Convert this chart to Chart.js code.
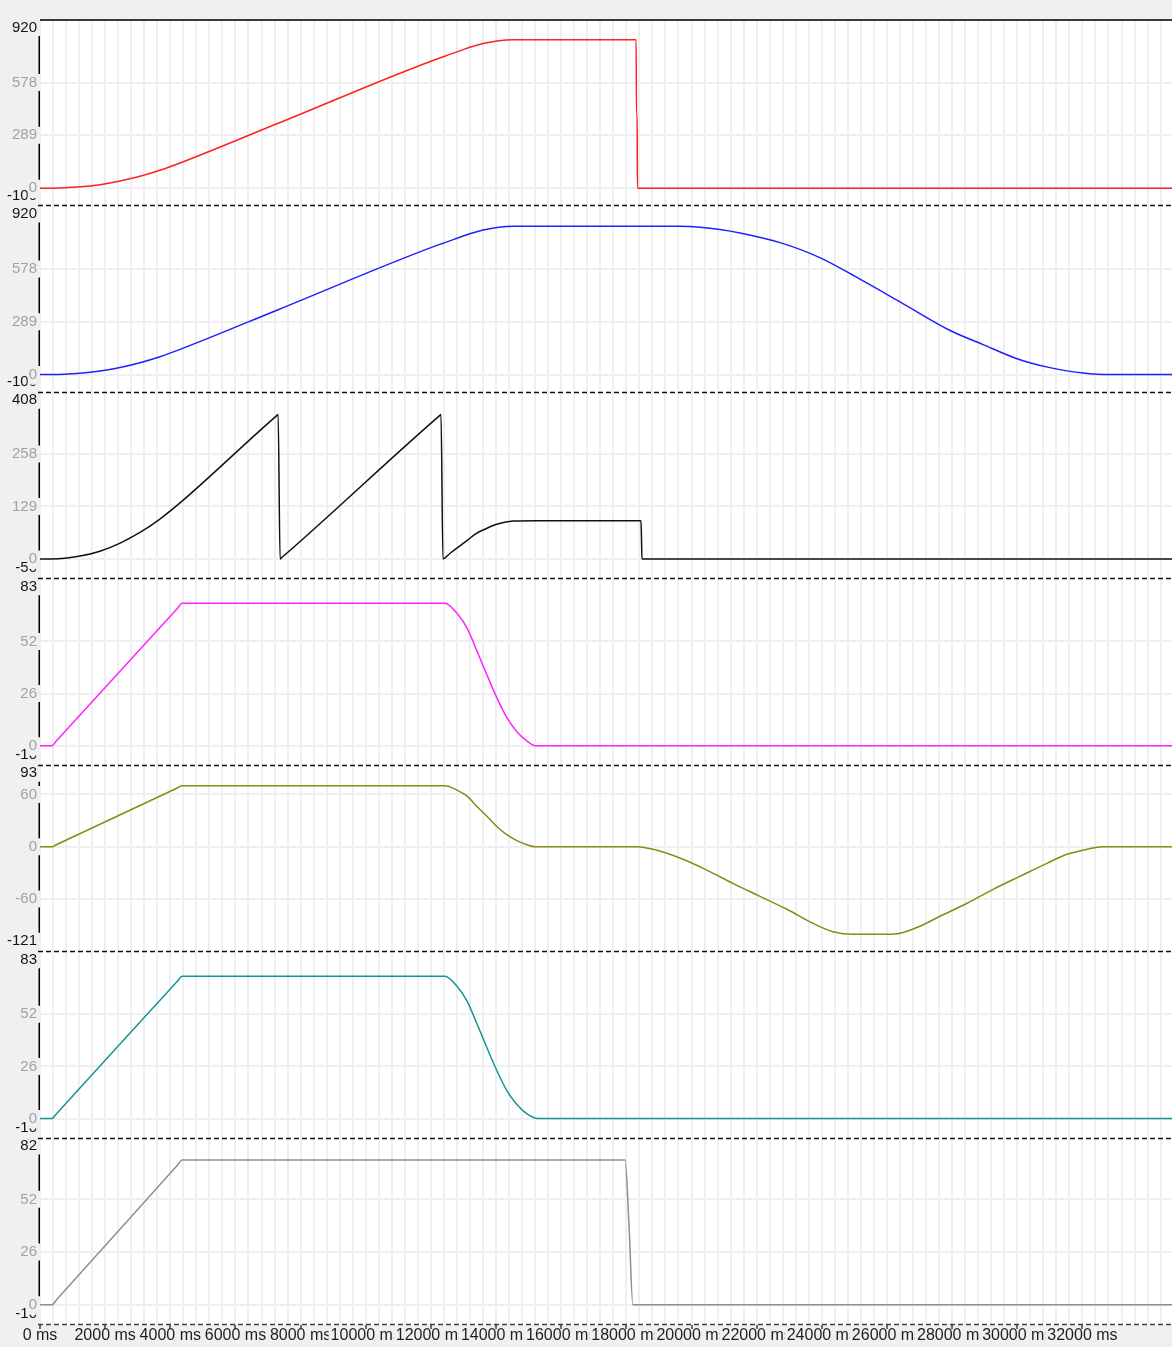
<!DOCTYPE html>
<html>
<head>
<meta charset="utf-8">
<script src="https://cdn.jsdelivr.net/npm/chart.js@4/dist/chart.umd.min.js"></script>
<style>
  html, body { margin: 0; padding: 0; background: #f0f0f0; overflow: hidden; }
  canvas { display: block; }
</style>
</head>
<body>
<canvas id="trace" width="1172" height="1347" style="width:1172px;height:1347px"></canvas>
<script>
// ---- time axis ----
const timeEnd = 34750;          // ms shown at the right edge
const gridStep = 400;           // ms between vertical grid lines
const timeLabels = ['0 ms', '2000 ms', '4000 ms', '6000 ms', '8000 ms', '10000 ms', '12000 ms',
  '14000 ms', '16000 ms', '18000 ms', '20000 ms', '22000 ms', '24000 ms', '26000 ms',
  '28000 ms', '30000 ms', '32000 ms'];

// ---- recorded channels (time in ms, value) ----
const ch1Time  = [0, 370, 1230, 1840, 2460, 3070, 3680, 4360, 7310, 12310, 12430, 12990, 13600, 14030, 14520, 15260, 18300, 18310, 18330, 18340, 34750];
const ch1Value = [0, 0, 7, 19, 39, 65, 98, 142, 355, 715, 722, 758, 791, 805, 812, 812, 812, 408, 408, 0, 0];

const ch2Time  = [0, 370, 1230, 1840, 2460, 3070, 3680, 4360, 7310, 12310, 12430, 12990, 13600, 14030, 14520, 15260, 18420, 19640, 20260, 20870, 21490, 22720, 23940, 25170, 26400, 27940, 28950, 29990, 31000, 32020, 32450, 32900, 34750];
const ch2Value = [0, 0, 7, 19, 39, 65, 98, 142, 355, 715, 722, 758, 791, 805, 812, 812, 812, 811, 806, 794, 775, 722, 640, 522, 398, 241, 164, 87, 38, 8, 1.5, 0, 0];

const ch3Time  = [0, 370, 1230, 1840, 2460, 3070, 3680, 4360, 7250, 7310, 7370, 7430, 12250, 12310, 12370, 12590, 12990, 13400, 13600, 14020, 14530, 15260, 18450, 18465, 18480, 34750];
const ch3Value = [0, 0, 7, 19, 39, 65, 98, 142, 351, 355, 0, 4, 351, 355, 0, 14, 38, 63, 71, 85, 93, 94, 94, 47, 0, 0];

const ch4Time  = [0, 370, 500, 4230, 4360, 12430, 12800, 13110, 13420, 13720, 14030, 14340, 14640, 14950, 15200, 34750];
const ch4Value = [0, 0, 2.3, 68.7, 71, 71, 66, 58.6, 47, 35.3, 23.7, 13.7, 7, 2.3, 0, 0];

const ch5Time  = [0, 370, 500, 4230, 4360, 12430, 12800, 13110, 13420, 13720, 14030, 14340, 14640, 14950, 15200, 18330, 18820, 19740, 20480, 21270, 22100, 22930, 23730, 24340, 24960, 26000, 26400, 27010, 27630, 28460, 29260, 30080, 30910, 31530, 32140, 32630, 34750];
const ch5Value = [0, 0, 2.3, 67.7, 70, 70, 65, 58, 46, 35, 23, 13.5, 7, 2.3, 0, 0, -3, -14.4, -27.1, -42, -56.9, -71.8, -88, -97.5, -100.5, -100.5, -99.3, -91.3, -79.8, -64.9, -48.9, -34, -19.1, -8.7, -3, 0, 0];

const ch6Time  = [0, 370, 500, 4230, 4360, 12430, 12800, 13110, 13420, 13720, 14030, 14340, 14640, 14950, 15280, 34750];
const ch6Value = [0, 0, 2.3, 68.7, 71, 71, 66, 58.6, 47, 35.3, 23.7, 13.7, 7, 2.3, 0, 0];

const ch7Time  = [0, 370, 500, 4230, 4360, 17960, 18080, 18200, 34750];
const ch7Value = [0, 0, 2.3, 69.1, 71.4, 71.4, 40, 0, 0];

// ---- per-panel value ranges and grid ticks ----
const panelMin   = [-100, -100, -50, -10, -121, -10, -10];
const panelMax   = [920, 920, 408, 83, 93, 83, 82];
const panelTicks = [[0, 289, 578], [0, 289, 578], [0, 129, 258], [0, 26, 52], [-60, 0, 60], [0, 26, 52], [0, 26, 52]];

// ---- styling ----
const lineColors = ['#ff2020', '#2020ff', '#111111', '#ff22ff', '#8a8a12', '#139595', '#8e8e8e'];
const FONT = "'Liberation Sans', Arial, sans-serif";
const BG = '#f0f0f0';
const GRID = '#efefef';

const channels = [
  [ch1Time, ch1Value], [ch2Time, ch2Value], [ch3Time, ch3Value], [ch4Time, ch4Value],
  [ch5Time, ch5Value], [ch6Time, ch6Value], [ch7Time, ch7Value]
];

const timeLabel = v => (v % 2000 === 0 && v / 2000 < timeLabels.length) ? timeLabels[v / 2000] : '';

const datasets = channels.map(([t, v], i) => ({
  data: t.map((x, k) => ({ x, y: v[k] })),
  xAxisID: 'x',
  yAxisID: 'y' + (i + 1),
  borderColor: lineColors[i],
  borderWidth: 1.5,
  pointRadius: 0,
  cubicInterpolationMode: 'monotone',
  fill: false
}));

const scales = {
  x: {
    type: 'linear',
    min: 0,
    max: timeEnd,
    afterBuildTicks: s => {
      const list = [];
      for (let v = 0; v < timeEnd; v += gridStep) list.push({ value: v });
      s.ticks = list;
    },
    afterFit: s => { s.height = 22; s.paddingLeft = 0; s.paddingRight = 0; },
    border: { display: false },
    grid: {
      color: GRID,
      lineWidth: 2,
      tickLength: 4,
      tickWidth: 1.5,
      tickColor: c => (c.tick && timeLabel(c.tick.value) !== '') ? '#404040' : 'rgba(0,0,0,0)'
    },
    ticks: {
      autoSkip: false,
      maxRotation: 0,
      minRotation: 0,
      padding: 0,
      color: '#1e1e1e',
      font: { family: FONT, size: 16, lineHeight: '13px' },
      callback: v => timeLabel(v),
      showLabelBackdrop: c => !!(c.tick && timeLabel(c.tick.value) !== ''),
      backdropColor: BG,
      backdropPadding: { left: 2, right: 2, top: 0, bottom: 3 }
    }
  }
};

// panels are stacked on the left; the last one added sits at the top of the stack
for (let i = panelMin.length - 1; i >= 0; i--) {
  const mn = panelMin[i], mx = panelMax[i], inner = panelTicks[i];
  scales['y' + (i + 1)] = {
    type: 'linear',
    position: 'left',
    stack: 'panels',
    stackWeight: 1,
    min: mn,
    max: mx,
    afterBuildTicks: s => { s.ticks = [mn, ...inner, mx].map(v => ({ value: v })); },
    afterFit: s => { s.width = 40; s.paddingTop = 0; s.paddingBottom = 0; },
    border: { display: false },
    grid: {
      drawTicks: false,
      lineWidth: 2,
      color: c => (c.tick && c.tick.value !== mn && c.tick.value !== mx) ? GRID : 'rgba(0,0,0,0)'
    },
    ticks: {
      autoSkip: false,
      padding: 3,
      callback: v => v === mx ? ['', String(v)] : (v === mn ? [String(v), ''] : String(v)),
      color: c => (c.tick && (c.tick.value === mn || c.tick.value === mx)) ? '#141414' : '#9ea2a8',
      font: c => ({
        family: FONT,
        size: 15,
        lineHeight: (c.tick && c.tick.value === mx) ? '15px' : (c.tick && c.tick.value === mn) ? '22px' : '18px'
      }),
      showLabelBackdrop: c => !!(c.tick && c.tick.value === 0),
      backdropColor: BG,
      backdropPadding: 1
    }
  };
}

// frame: grey surround, white plot area, panel separators and the broken value-axis line
const panelFrame = {
  id: 'panelFrame',
  beforeDraw(chart) {
    const { ctx, chartArea: a } = chart;
    ctx.save();
    ctx.fillStyle = BG;
    ctx.fillRect(0, 0, chart.width, chart.height);
    ctx.fillStyle = '#ffffff';
    ctx.fillRect(a.left, a.top, a.right - a.left, a.bottom - a.top);
    ctx.restore();
  },
  afterDraw(chart) {
    const { ctx, chartArea: a } = chart;
    ctx.save();
    ctx.strokeStyle = '#3a3a3a';
    ctx.lineWidth = 2;
    ctx.beginPath();
    ctx.moveTo(a.left, a.top);
    ctx.lineTo(a.right, a.top);
    ctx.stroke();

    const ys = Object.values(chart.scales).filter(s => s.axis === 'y');
    ctx.lineWidth = 1.5;
    ctx.setLineDash([5, 3]);
    ys.forEach(s => {
      const y = Math.round(s.bottom) - 0.5;
      ctx.strokeStyle = Math.abs(s.bottom - a.bottom) < 1 ? '#404040' : '#111111';
      ctx.beginPath();
      ctx.moveTo(a.left - 2, y);
      ctx.lineTo(a.right, y);
      ctx.stroke();
    });

    ctx.setLineDash([]);
    ctx.strokeStyle = '#000000';
    const half = 8.5;
    ys.forEach(s => {
      const centers = s.ticks.map(t => {
        if (t.value === s.max) return s.top + 7.5;
        if (t.value === s.min) return s.bottom - 11;
        return s.getPixelForValue(t.value);
      }).sort((p, q) => p - q);
      for (let k = 0; k < centers.length - 1; k++) {
        const y0 = centers[k] + half, y1 = centers[k + 1] - half;
        if (y1 - y0 < 1) continue;
        ctx.beginPath();
        ctx.moveTo(a.left - 0.75, y0);
        ctx.lineTo(a.left - 0.75, y1);
        ctx.stroke();
      }
    });
    ctx.restore();
  }
};

Chart.defaults.font.family = FONT;

new Chart(document.getElementById('trace'), {
  type: 'line',
  data: { datasets },
  options: {
    responsive: false,
    animation: false,
    devicePixelRatio: 1,
    layout: { padding: { top: 20, left: 0, right: 0, bottom: 0 } },
    plugins: { legend: { display: false }, tooltip: { enabled: false } },
    scales
  },
  plugins: [panelFrame]
});
</script>
</body>
</html>
